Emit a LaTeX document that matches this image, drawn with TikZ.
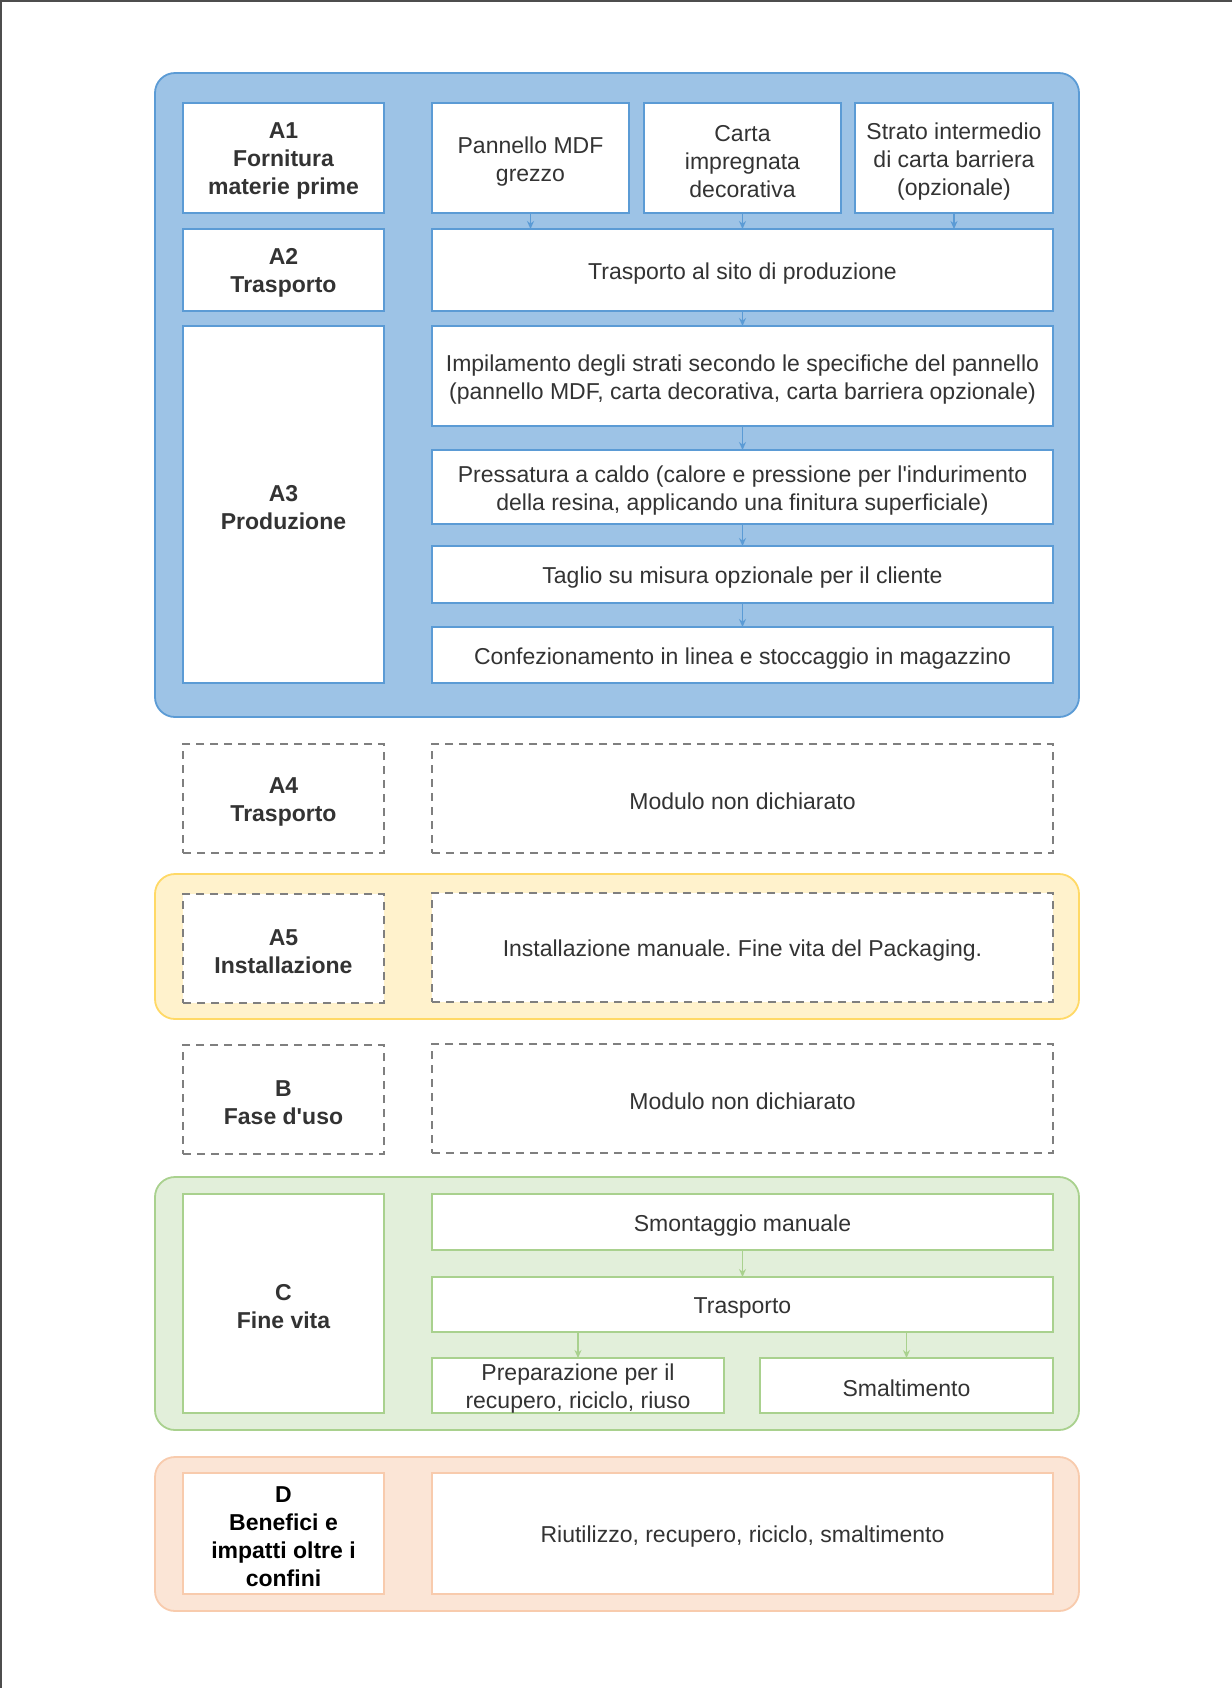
\documentclass[tikz,border=0pt]{standalone}
\usepackage{fontspec}
\setmainfont{Liberation Sans}
\usetikzlibrary{arrows.meta}
\frenchspacing
\definecolor{txt}{HTML}{333333}
\definecolor{bluefill}{HTML}{9DC3E6}
\definecolor{bluedraw}{HTML}{5B9BD5}
\definecolor{yelfill}{HTML}{FFF2CC}
\definecolor{yeldraw}{HTML}{FFD966}
\definecolor{grnfill}{HTML}{E2EFDA}
\definecolor{grndraw}{HTML}{A9D18E}
\definecolor{orafill}{HTML}{FBE5D6}
\definecolor{oradraw}{HTML}{F8CBAD}
\definecolor{dashc}{HTML}{7F7F7F}
\definecolor{framec}{HTML}{4D4D4D}
\newcommand\bx[7]{\node[#2, minimum width={(#5-#3)*0.5pt}, minimum height={(#6-#4)*0.5pt}] (#1) at ({(#3+#5)/2},{(#4+#6)/2}) {};
  \node[#2, draw=none, fill=none, minimum width=0pt, minimum height=0pt, yshift=-1.6pt] at (#1.center) {#7};}
\tikzset{
  base/.style={rectangle, inner sep=0pt, outer sep=0pt, align=center, text=txt,
    font=\fontsize{11.5}{14}\selectfont},
  cont/.style={base, rounded corners=10pt, line width=0.9pt},
  bluecont/.style={cont, fill=bluefill, draw=bluedraw},
  yelcont/.style={cont, fill=yelfill, draw=yeldraw},
  grncont/.style={cont, fill=grnfill, draw=grndraw},
  oracont/.style={cont, fill=orafill, draw=oradraw},
  bluebox/.style={base, fill=white, draw=bluedraw, line width=0.9pt},
  grnbox/.style={base, fill=white, draw=grndraw, line width=0.9pt},
  orabox/.style={base, fill=white, draw=oradraw, line width=0.9pt},
  dashbox/.style={base, fill=white, draw=dashc, line width=0.8pt, dash pattern=on 4pt off 3pt},
  lbl/.style={font=\fontsize{11.5}{14}\selectfont\bfseries},
  bluearr/.style={draw=bluedraw, line width=0.6pt, -{Stealth[length=4pt,width=3.5pt]}},
  grnarr/.style={draw=grndraw, line width=0.6pt, -{Stealth[length=4pt,width=3.5pt]}},
}
\begin{document}
\begin{tikzpicture}[x=0.5pt,y=-0.5pt]
\useasboundingbox (0,0) rectangle (1232,1688);
\fill[white] (0,0) rectangle (1232,1688);
\draw[framec, line width=1pt] (1,1688) -- (1,1) -- (1232,1);
% A block
\bx{contA}{bluecont}{155}{73}{1079}{717}{}
\bx{a1}{bluebox,lbl}{183}{103}{384}{213}{A1\\Fornitura\\materie prime}
\bx{pan}{bluebox}{432}{103}{629}{213}{Pannello MDF\\grezzo}
\bx{carta}{bluebox}{644}{103}{841}{213}{Carta\\impregnata\\decorativa}
\bx{strato}{bluebox}{855}{103}{1053}{213}{Strato intermedio\\di carta barriera\\(opzionale)}
\bx{a2}{bluebox,lbl}{183}{229}{384}{311}{A2\\Trasporto}
\bx{tsito}{bluebox}{432}{229}{1053}{311}{Trasporto al sito di produzione}
\bx{a3}{bluebox,lbl}{183}{326}{384}{683}{A3\\Produzione}
\bx{impil}{bluebox}{432}{326}{1053}{426}{Impilamento degli strati secondo le specifiche del pannello\\(pannello MDF, carta decorativa, carta barriera opzionale)}
\bx{press}{bluebox}{432}{450}{1053}{524}{Pressatura a caldo (calore e pressione per l\textquotesingle indurimento\\della resina, applicando una finitura superficiale)}
\bx{taglio}{bluebox}{432}{546}{1053}{603}{Taglio su misura opzionale per il cliente}
\bx{confez}{bluebox}{432}{627}{1053}{683}{Confezionamento in linea e stoccaggio in magazzino}
\draw[bluearr] (pan.south) -- (pan.south |- tsito.north);
\draw[bluearr] (carta.south) -- (carta.south |- tsito.north);
\draw[bluearr] (strato.south) -- (strato.south |- tsito.north);
\draw[bluearr] (tsito) -- (impil);
\draw[bluearr] (impil) -- (press);
\draw[bluearr] (press) -- (taglio);
\draw[bluearr] (taglio) -- (confez);
% A4
\bx{a4}{dashbox,lbl}{183}{744}{384}{853}{A4\\Trasporto}
\bx{moda4}{dashbox}{432}{744}{1053}{853}{Modulo non dichiarato}
% A5
\bx{contA5}{yelcont}{155}{874}{1079}{1019}{}
\bx{a5}{dashbox,lbl}{183}{894}{384}{1003}{A5\\Installazione}
\bx{inst}{dashbox}{432}{893}{1053}{1002}{Installazione manuale. Fine vita del Packaging.}
% B
\bx{b}{dashbox,lbl}{183}{1045}{384}{1154}{B\\Fase d\textquotesingle uso}
\bx{modb}{dashbox}{432}{1044}{1053}{1153}{Modulo non dichiarato}
% C
\bx{contC}{grncont}{155}{1177}{1079}{1430}{}
\bx{c}{grnbox,lbl}{183}{1194}{384}{1413}{C\\Fine vita}
\bx{smont}{grnbox}{432}{1194}{1053}{1250}{Smontaggio manuale}
\bx{tc}{grnbox}{432}{1277}{1053}{1332}{Trasporto}
\bx{prep}{grnbox}{432}{1358}{724}{1413}{Preparazione per il\\recupero, riciclo, riuso}
\bx{smalt}{grnbox}{760}{1358}{1053}{1413}{Smaltimento}
\draw[grnarr] (smont) -- (tc);
\draw[grnarr] (prep.north |- tc.south) -- (prep.north);
\draw[grnarr] (smalt.north |- tc.south) -- (smalt.north);
% D
\bx{contD}{oracont}{155}{1457}{1079}{1611}{}
\bx{d}{orabox,lbl,text=black}{183}{1473}{384}{1594}{D\\Benefici e\\impatti oltre i\\confini}
\bx{riut}{orabox}{432}{1473}{1053}{1594}{Riutilizzo, recupero, riciclo, smaltimento}
\end{tikzpicture}
\end{document}
